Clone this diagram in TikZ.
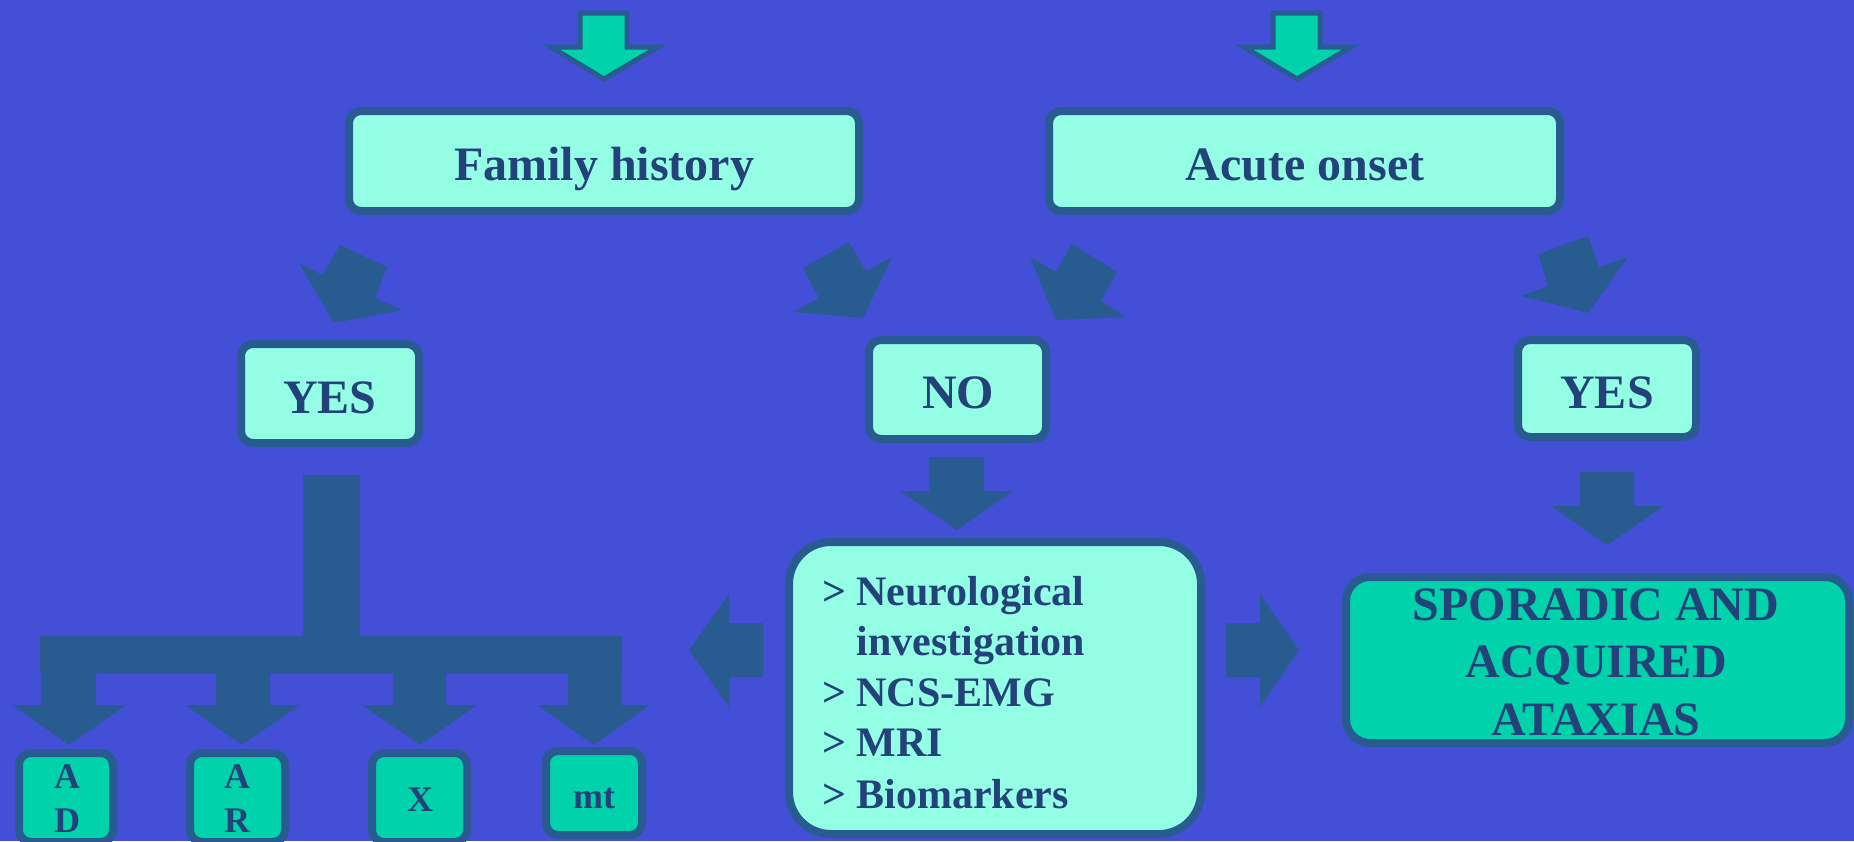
\documentclass[tikz,border=0pt]{standalone}
\usepackage{fontspec}
\setmainfont{Liberation Serif}
\definecolor{bg}{RGB}{67,79,214}
\definecolor{edge}{RGB}{40,92,145}
\definecolor{light}{RGB}{147,254,228}
\definecolor{teal}{RGB}{0,210,172}
\definecolor{ink}{RGB}{35,66,122}
\tikzset{
  box/.style={draw=edge, line width=8pt, fill=light, rounded corners=12pt, inner sep=0pt, shape=rectangle},
  tbox/.style={box, fill=teal},
  big/.style={text=ink, font=\bfseries\fontsize{48}{57}\selectfont, inner sep=0pt, anchor=base},
  mid/.style={text=ink, font=\bfseries\fontsize{42}{50}\selectfont, inner sep=0pt, anchor=base west},
  small/.style={text=ink, font=\bfseries\fontsize{36}{43}\selectfont, inner sep=0pt, anchor=base},
  darrow/.style={fill=edge, draw=none},
  garrow/.style={fill=teal, draw=edge, line width=5pt, line join=miter}
}
\begin{document}
\begin{tikzpicture}[x=1pt,y=-1pt]
\useasboundingbox (0,0) rectangle (1854,841);
\fill[bg] (0,0) rectangle (1854,841);

% green entry arrows
\draw[garrow] (580,13) -- (627,13) -- (627,47) -- (658,47) -- (604,79) -- (551,47) -- (580,47) -- cycle;
\draw[garrow] (1273,13) -- (1320,13) -- (1320,47) -- (1351,47) -- (1297,79) -- (1244,47) -- (1273,47) -- cycle;

% boxes
\node[box, minimum width=510pt, minimum height=100pt] (fam) at (604,161) {};
\node[box, minimum width=511pt, minimum height=100pt] (acute) at (1304.5,161) {};
\node[box, minimum width=178pt, minimum height=99pt] (yesL) at (330,393.5) {};
\node[box, minimum width=177pt, minimum height=99pt] (no) at (957.5,389.5) {};
\node[box, minimum width=178pt, minimum height=97pt] (yesR) at (1607,388.5) {};
\node[box, rounded corners=42pt, minimum width=412pt, minimum height=292pt] (inv) at (995,688) {};
\node[tbox, rounded corners=24pt, minimum width=503pt, minimum height=166pt] (spor) at (1597.5,660) {};
\node[tbox, minimum width=94pt, minimum height=89pt] (ad) at (66,797.5) {};
\node[tbox, minimum width=95pt, minimum height=89pt] (ar) at (237.5,797.5) {};
\node[tbox, minimum width=95pt, minimum height=89pt] (xb) at (419.5,797.5) {};
\node[tbox, minimum width=96pt, minimum height=84pt] (mt) at (594,793) {};

% texts
\node[big] (famt) at (604,180) {Family history};
\node[big] (acutet) at (1305,180) {Acute onset};
\node[big] (yesLt) at (330,413) {YES};
\node[big] (not) at (958,408) {NO};
\node[big] (yesRt) at (1607,408) {YES};
\node[big] (spor1) at (1596,620) {SPORADIC AND};
\node[big] (spor2) at (1596,677) {ACQUIRED};
\node[big] (spor3) at (1596,735) {ATAXIAS};
\node[mid] (inv1) at (822,605) {> Neurological};
\node[mid] (inv2) at (822,655) {\phantom{> }investigation};
\node[mid] (inv3) at (822,706) {> NCS-EMG};
\node[mid] (inv4) at (822,756) {> MRI};
\node[mid] (inv5) at (822,808) {> Biomarkers};
\node[small] (ad1) at (67,788) {A};
\node[small] (ad2) at (67,832) {D};
\node[small] (ar1) at (237,788) {A};
\node[small] (ar2) at (237,832) {R};
\node[small] (xt) at (420,811) {X};
\node[small] (mtt) at (594,808) {mt};

% diagonal arrows
\fill[darrow] (340,245) -- (387,267) -- (375,298) -- (402,310) -- (334,323) -- (299,263) -- (322,275) -- cycle;
\fill[darrow] (803,268) -- (849,242) -- (866,271) -- (892,257) -- (863,318) -- (793,312) -- (819,298) -- cycle;
\fill[darrow] (1072,244) -- (1117,272) -- (1101,301) -- (1126,317) -- (1056,320) -- (1030,257) -- (1056,272) -- cycle;
\fill[darrow] (1538,254) -- (1588,236) -- (1599,267) -- (1628,257) -- (1588,313) -- (1521,296) -- (1548,286) -- cycle;

% vertical arrows
\fill[darrow] (929,457) -- (984,457) -- (984,491) -- (1013,491) -- (957,530) -- (900,491) -- (929,491) -- cycle;
\fill[darrow] (1580,472) -- (1634,472) -- (1634,506) -- (1664,506) -- (1607,545) -- (1551,506) -- (1580,506) -- cycle;

% horizontal arrows
\fill[darrow] (763,623) -- (763,677) -- (729,677) -- (729,707) -- (689,650) -- (729,594) -- (729,623) -- cycle;
\fill[darrow] (1226,623) -- (1226,677) -- (1260,677) -- (1260,707) -- (1299,650) -- (1260,594) -- (1260,623) -- cycle;

% tree
\fill[darrow] (303,475) rectangle (360,640);
\fill[darrow] (40,636) rectangle (622,674);
\foreach \l/\r/\hl/\hr/\t in {41/96/12/126/69, 216/270/185/300/242, 393/446/362/477/420, 568/621/537/650/594}{
  \fill[darrow] (\l,670) -- (\r,670) -- (\r,705) -- (\hr,705) -- (\t,745) -- (\hl,705) -- (\l,705) -- cycle;
}
\end{tikzpicture}
\end{document}
